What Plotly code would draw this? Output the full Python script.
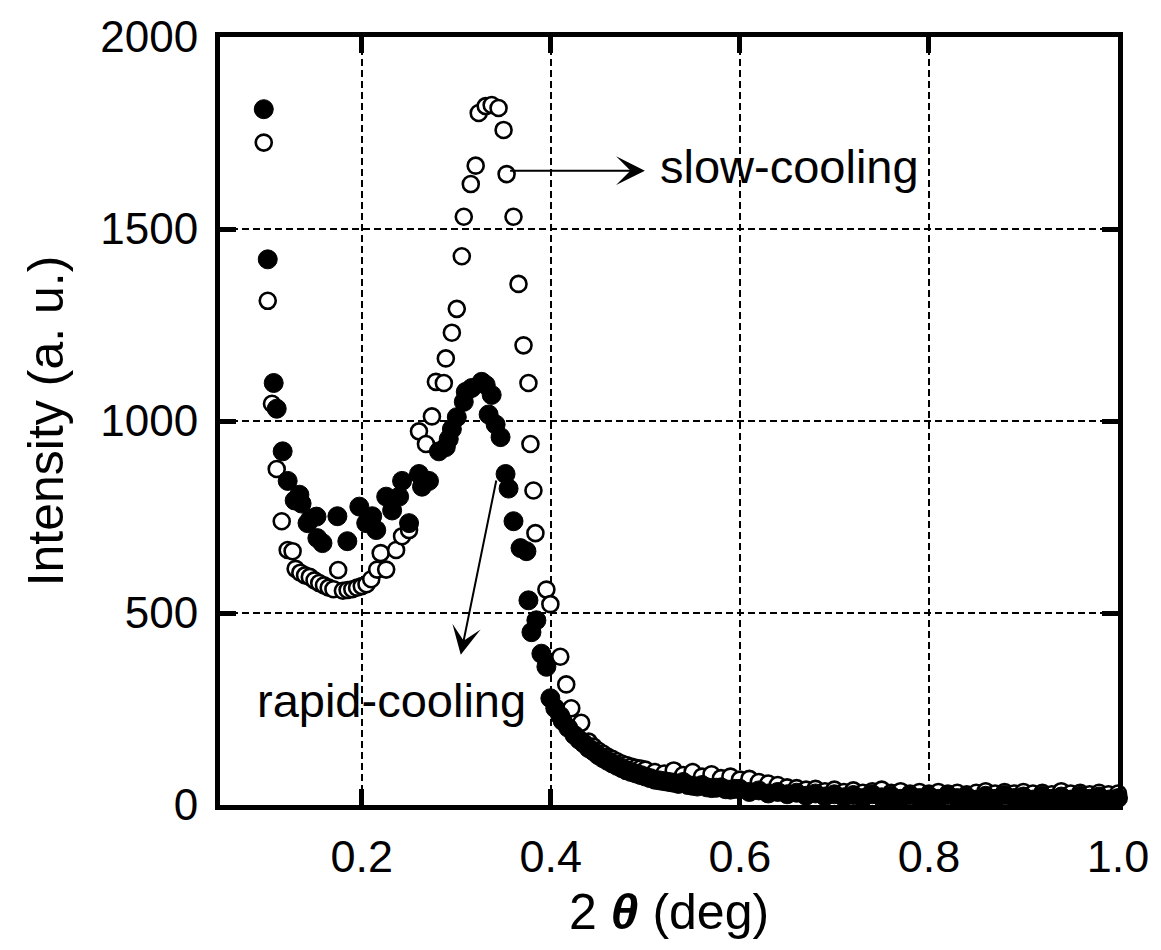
import plotly.graph_objects as go

# ---------------- data ----------------
# rapid-cooling (filled circles)
rapid_x = [0.0963, 0.1005, 0.1068, 0.110, 0.1163, 0.1216, 0.129, 0.134, 0.1363, 0.1426, 0.146,
           0.1521, 0.153, 0.1584, 0.1742, 0.1847, 0.1974, 0.2047, 0.211, 0.2153, 0.2258, 0.2321,
           0.2395, 0.2426, 0.25, 0.2605, 0.2637, 0.2711, 0.2816, 0.2889, 0.292, 0.2953, 0.3005,
           0.3079, 0.31, 0.3163, 0.3268, 0.3311, 0.3374, 0.3342, 0.3416, 0.3468, 0.3521, 0.3553,
           0.3605, 0.3679, 0.3742, 0.3763, 0.3795, 0.3847, 0.39, 0.3953, 0.3995, 0.4047, 0.41,
           0.4125, 0.4184, 0.425, 0.43, 0.435, 0.44, 0.445, 0.45, 0.455, 0.46, 0.465, 0.47,
           0.475, 0.48, 0.485, 0.49, 0.495,
           0.50, 0.505, 0.51, 0.515, 0.52, 0.525, 0.53, 0.535, 0.54, 0.545, 0.55, 0.555, 0.56,
           0.565, 0.57, 0.575, 0.58, 0.585, 0.59, 0.595, 0.60,
           0.61, 0.62, 0.63,
           0.64, 0.65, 0.66, 0.67, 0.68, 0.69, 0.70, 0.71, 0.72, 0.73, 0.74, 0.75, 0.76, 0.77,
           0.78, 0.79, 0.80, 0.81, 0.82, 0.83, 0.84, 0.85, 0.86, 0.87, 0.88, 0.89, 0.90, 0.91,
           0.92, 0.93, 0.94, 0.95, 0.96, 0.97, 0.98, 0.99, 1.00]
rapid_y = [1812, 1421, 1099, 1032, 921, 844, 793, 808, 785, 734, 746,
           751, 695, 682, 752, 687, 777, 734, 752, 716, 803, 767,
           803, 844, 734, 862, 829, 844, 921, 932, 953, 979, 1010,
           1050, 1076, 1086, 1102, 1094, 1068, 1017, 991, 958, 862, 824,
           739, 669, 661, 533, 450, 481, 394, 360, 278, 252, 232,
           219, 201, 182, 170, 160, 148, 140, 130, 122, 115, 108, 102,
           96, 90, 86, 82, 78,
           74, 70, 66, 64, 62, 60, 58, 55, 60, 52, 50, 48, 52,
           46, 44, 45, 46, 41, 40, 42, 42,
           34, 38, 30,
           34, 28, 32, 24, 30, 22, 28, 20, 26, 18, 28, 20, 24, 16,
           26, 18, 24, 16, 26, 18, 22, 14, 24, 16, 26, 18, 22, 14,
           24, 16, 22, 14, 24, 16, 22, 14, 18]

# slow-cooling (open circles)
slow_x = [0.0963, 0.1005, 0.105, 0.110, 0.1153, 0.1216, 0.1268, 0.130, 0.135, 0.140, 0.145,
          0.150, 0.155, 0.160, 0.165, 0.170, 0.175, 0.180, 0.185, 0.190, 0.195, 0.200,
          0.205, 0.210, 0.2163, 0.220, 0.2258, 0.2363, 0.2426, 0.25, 0.2605, 0.2679, 0.2742,
          0.2784, 0.2868, 0.2889, 0.2953, 0.3005, 0.3058, 0.3079, 0.3153, 0.3205, 0.3237,
          0.3311, 0.3374, 0.3447, 0.35, 0.3532, 0.3605, 0.3658, 0.3711, 0.3763, 0.3784,
          0.3816, 0.3837, 0.3953, 0.3995, 0.41, 0.4163, 0.4216, 0.4321,
          0.44, 0.445, 0.45, 0.455, 0.46, 0.465, 0.47, 0.475, 0.48, 0.485, 0.49, 0.495,
          0.50, 0.51, 0.52, 0.53, 0.54, 0.55, 0.56, 0.57, 0.58, 0.59, 0.60, 0.61, 0.62, 0.63,
          0.64, 0.65, 0.66, 0.67, 0.68, 0.69, 0.70, 0.71, 0.72, 0.73, 0.74, 0.75, 0.76, 0.77,
          0.78, 0.79, 0.80, 0.81, 0.82, 0.83, 0.84, 0.85, 0.86, 0.87, 0.88, 0.89, 0.90, 0.91,
          0.92, 0.93, 0.94, 0.95, 0.96, 0.97, 0.98, 0.99, 1.00]
slow_y = [1725, 1313, 1045, 875, 739, 664, 661, 615, 605, 598, 594,
          585, 578, 572, 566, 562, 612, 558, 560, 562, 566, 570,
          575, 588, 613, 656, 613, 664, 700, 716, 973, 940, 1012,
          1102, 1099, 1163, 1230, 1292, 1429, 1532, 1617, 1665, 1802,
          1820, 1823, 1815, 1758, 1643, 1532, 1357, 1197, 1099, 940,
          819, 708, 561, 523, 386, 314, 252, 214,
          165, 152, 142, 134, 126, 120, 114, 108, 104, 100, 97, 95,
          92, 86, 82, 90, 78, 86, 74, 80, 70, 74, 66, 68, 60, 56,
          52, 46, 44, 40, 42, 36, 40, 34, 38, 32, 36, 40, 32, 36,
          30, 34, 30, 34, 30, 32, 28, 32, 36, 30, 34, 30, 34, 30,
          32, 28, 36, 30, 32, 28, 32, 28, 30]

x_ticks = [0.2, 0.4, 0.6, 0.8, 1.0]
y_ticks = [0, 500, 1000, 1500, 2000]

FONT = "Liberation Sans, Arial, sans-serif"

fig = go.Figure()
fig.add_trace(go.Scatter(
    x=slow_x, y=slow_y, mode="markers", name="slow-cooling",
    marker=dict(symbol="circle", size=16, color="white", line=dict(color="black", width=2.6)),
    cliponaxis=False, showlegend=False))
fig.add_trace(go.Scatter(
    x=rapid_x, y=rapid_y, mode="markers", name="rapid-cooling",
    marker=dict(symbol="circle", size=19, color="black", line=dict(color="black", width=1)),
    cliponaxis=False, showlegend=False))

axis_common = dict(
    showline=True, linecolor="black", linewidth=5, mirror="ticks",
    ticks="inside", ticklen=16, tickwidth=5, tickcolor="black",
    showgrid=True, gridcolor="black", gridwidth=2, griddash="7px,4px",
    zeroline=False,
)

fig.update_xaxes(
    range=[0.05, 1.0], tickvals=x_ticks, tickformat=".1f",
    tickfont=dict(family=FONT, size=45, color="black"),
    ticklabelstandoff=8,
    title=dict(text="2 <b><i>θ</i></b> (deg)", font=dict(family=FONT, size=50, color="black"),
               standoff=14),
    **axis_common)
fig.update_yaxes(
    range=[0, 2000], tickvals=y_ticks,
    tickfont=dict(family=FONT, size=44, color="black"),
    ticklabelstandoff=8,
    title=dict(text="Intensity (a. u.)", font=dict(family=FONT, size=50, color="black"),
               standoff=22),
    **axis_common)

fig.add_annotation(x=0.4995, y=1652, ax=0.3553, ay=1652, axref="x", ayref="y",
                   xref="x", yref="y", text="", showarrow=True,
                   arrowhead=3, arrowsize=2.4, arrowwidth=2, arrowcolor="black")
fig.add_annotation(x=0.3047, y=391, ax=0.3426, ay=849, axref="x", ayref="y",
                   xref="x", yref="y", text="", showarrow=True,
                   arrowhead=3, arrowsize=2.4, arrowwidth=2, arrowcolor="black")
fig.add_annotation(x=0.5132, y=1663, xref="x", yref="y", text="slow-cooling",
                   showarrow=False, xanchor="left", yanchor="middle",
                   font=dict(family=FONT, size=47, color="black"))
fig.add_annotation(x=0.231, y=272, xref="x", yref="y", text="rapid-cooling",
                   showarrow=False, xanchor="center", yanchor="middle",
                   font=dict(family=FONT, size=47, color="black"))

fig.update_layout(
    width=1161, height=950,
    margin=dict(l=220, r=39, t=28, b=145),
    paper_bgcolor="white", plot_bgcolor="white",
    font=dict(family=FONT, color="black"),
)

fig.write_html("out.html")
